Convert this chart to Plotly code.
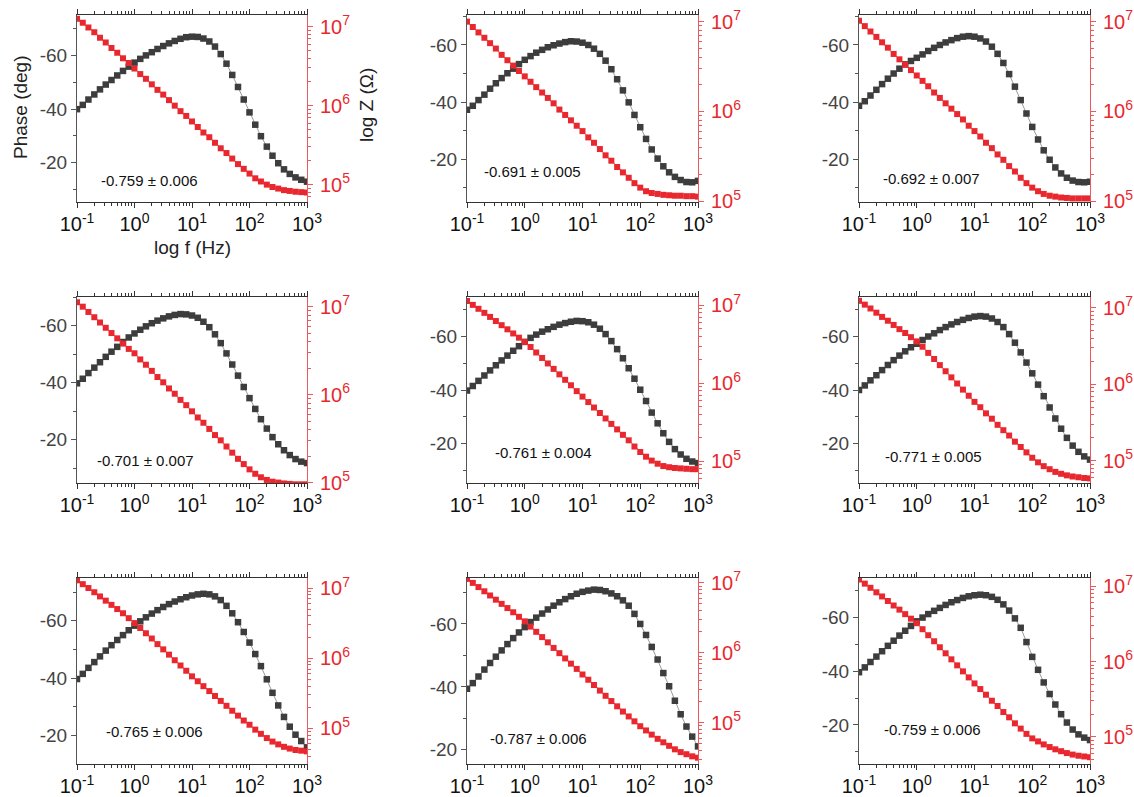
import plotly.graph_objects as go

# ---------------- data ----------------
freq = [0.1, 0.126, 0.158, 0.2, 0.251, 0.316, 0.398, 0.501, 0.631, 0.794,
        1.0, 1.26, 1.58, 2.0, 2.51, 3.16, 3.98, 5.01, 6.31, 7.94,
        10.0, 12.6, 15.8, 20.0, 25.1, 31.6, 39.8, 50.1, 63.1, 79.4,
        100.0, 126.0, 158.0, 200.0, 251.0, 316.0, 398.0, 501.0, 631.0, 794.0, 1000.0]

phase_1 = [-40.0, -41.6, -43.6, -45.5, -47.4, -49.2, -50.9, -52.6, -54.3, -55.9, -57.4, -58.8, -60.1, -61.3, -62.5, -63.6, -64.6, -65.5, -66.3, -66.9, -67.1, -67.0, -66.4, -65.3, -63.4, -60.6, -57.0, -52.8, -48.3, -43.6, -38.8, -34.2, -29.9, -26.0, -22.6, -19.8, -17.5, -15.8, -14.5, -13.6, -12.9]
phase_2 = [-37.3, -38.7, -40.7, -42.6, -44.7, -46.6, -48.4, -50.1, -51.7, -53.3, -54.8, -56.1, -57.3, -58.3, -59.2, -59.9, -60.5, -61.0, -61.3, -61.2, -60.8, -60.0, -58.7, -56.9, -54.5, -51.5, -48.0, -44.1, -39.9, -35.5, -31.2, -27.1, -23.4, -20.2, -17.5, -15.4, -13.8, -12.7, -12.0, -11.9, -12.4]
phase_3 = [-38.7, -40.3, -42.3, -44.3, -46.3, -48.2, -50.0, -51.7, -53.2, -54.4, -55.5, -56.7, -57.9, -59.0, -60.0, -60.9, -61.7, -62.4, -62.9, -63.1, -62.9, -62.3, -61.2, -59.4, -56.9, -53.7, -49.8, -45.4, -40.7, -36.0, -31.3, -26.9, -23.1, -19.8, -17.1, -15.0, -13.5, -12.5, -12.0, -11.9, -12.1]
phase_4 = [-39.8, -41.4, -43.4, -45.3, -47.2, -49.1, -50.9, -52.6, -54.3, -55.9, -57.3, -58.6, -59.8, -60.9, -61.8, -62.6, -63.3, -63.8, -64.1, -64.0, -63.6, -62.8, -61.4, -59.5, -57.0, -53.9, -50.3, -46.4, -42.5, -38.5, -34.6, -30.8, -27.2, -23.9, -20.9, -18.4, -16.3, -14.6, -13.2, -12.3, -11.8]
phase_5 = [-39.8, -41.5, -43.4, -45.4, -47.3, -49.2, -51.0, -52.8, -54.6, -56.3, -57.9, -59.4, -60.6, -61.7, -62.6, -63.5, -64.3, -64.9, -65.4, -65.7, -65.6, -65.2, -64.3, -62.8, -60.8, -58.2, -55.2, -51.8, -48.1, -44.2, -40.1, -35.9, -31.6, -27.6, -23.9, -20.7, -18.0, -16.0, -14.4, -13.4, -12.8]
phase_6 = [-40.0, -41.7, -43.6, -45.5, -47.4, -49.3, -51.1, -52.8, -54.4, -55.9, -57.2, -58.6, -59.9, -61.1, -62.3, -63.4, -64.4, -65.3, -66.1, -66.8, -67.3, -67.5, -67.3, -66.6, -65.3, -63.4, -60.8, -57.6, -54.0, -50.2, -46.2, -42.0, -37.7, -33.5, -29.4, -25.6, -22.2, -19.3, -17.0, -15.3, -14.1]
phase_7 = [-39.7, -41.5, -43.6, -45.6, -47.6, -49.6, -51.5, -53.3, -55.0, -56.7, -58.3, -59.8, -61.2, -62.5, -63.7, -64.8, -65.8, -66.7, -67.5, -68.2, -68.8, -69.2, -69.4, -69.2, -68.5, -67.2, -65.2, -62.6, -59.5, -56.1, -52.4, -48.4, -44.2, -39.6, -34.9, -30.5, -26.5, -23.1, -20.3, -18.1, -15.9]
phase_8 = [-39.4, -41.2, -43.3, -45.5, -47.6, -49.6, -51.6, -53.6, -55.5, -57.3, -59.0, -60.6, -62.0, -63.3, -64.6, -65.8, -66.9, -67.9, -68.8, -69.6, -70.2, -70.6, -70.9, -70.8, -70.4, -69.7, -68.8, -67.5, -65.8, -63.2, -60.0, -56.5, -52.7, -48.7, -44.4, -40.2, -35.6, -31.3, -27.4, -24.2, -21.1]
phase_9 = [-39.6, -41.4, -43.4, -45.4, -47.4, -49.4, -51.3, -53.2, -55.0, -56.8, -58.5, -59.9, -61.2, -62.4, -63.5, -64.6, -65.6, -66.4, -67.2, -67.8, -68.2, -68.4, -68.2, -67.6, -66.5, -64.8, -62.5, -59.6, -56.1, -50.8, -45.3, -40.5, -35.8, -31.5, -27.6, -24.0, -20.9, -18.3, -16.5, -15.3, -14.4]

logz_1 = [7.10, 7.05, 6.99, 6.93, 6.86, 6.80, 6.73, 6.67, 6.60, 6.54, 6.47, 6.40, 6.34, 6.27, 6.20, 6.14, 6.07, 6.00, 5.93, 5.87, 5.80, 5.73, 5.66, 5.60, 5.53, 5.46, 5.40, 5.33, 5.26, 5.20, 5.14, 5.08, 5.04, 5.00, 4.97, 4.95, 4.93, 4.92, 4.91, 4.905, 4.90]
logz_2 = [7.00, 6.94, 6.88, 6.82, 6.76, 6.70, 6.63, 6.57, 6.51, 6.45, 6.39, 6.33, 6.27, 6.21, 6.15, 6.09, 6.02, 5.96, 5.90, 5.84, 5.78, 5.71, 5.65, 5.58, 5.51, 5.45, 5.38, 5.32, 5.26, 5.20, 5.15, 5.11, 5.09, 5.08, 5.07, 5.065, 5.06, 5.06, 5.055, 5.055, 5.05]
logz_3 = [7.01, 6.95, 6.89, 6.83, 6.77, 6.71, 6.64, 6.58, 6.52, 6.46, 6.40, 6.34, 6.28, 6.21, 6.15, 6.09, 6.03, 5.97, 5.91, 5.84, 5.78, 5.72, 5.65, 5.59, 5.52, 5.46, 5.39, 5.33, 5.26, 5.20, 5.15, 5.11, 5.08, 5.06, 5.05, 5.04, 5.035, 5.03, 5.03, 5.03, 5.03]
logz_4 = [7.05, 7.00, 6.94, 6.88, 6.82, 6.76, 6.70, 6.64, 6.58, 6.52, 6.47, 6.40, 6.34, 6.27, 6.20, 6.14, 6.07, 6.01, 5.94, 5.88, 5.81, 5.74, 5.68, 5.61, 5.54, 5.48, 5.41, 5.34, 5.27, 5.21, 5.15, 5.10, 5.06, 5.03, 5.01, 5.00, 4.99, 4.985, 4.98, 4.98, 4.98]
logz_5 = [7.055, 7.005, 6.955, 6.903, 6.851, 6.798, 6.745, 6.692, 6.639, 6.585, 6.53, 6.465, 6.395, 6.325, 6.255, 6.185, 6.115, 6.045, 5.975, 5.90, 5.83, 5.76, 5.69, 5.62, 5.55, 5.48, 5.41, 5.34, 5.27, 5.19, 5.12, 5.06, 5.01, 4.97, 4.94, 4.925, 4.915, 4.91, 4.905, 4.90, 4.90]
logz_6 = [7.09, 7.04, 6.99, 6.935, 6.88, 6.83, 6.775, 6.72, 6.67, 6.615, 6.56, 6.49, 6.41, 6.33, 6.25, 6.17, 6.09, 6.01, 5.93, 5.85, 5.77, 5.70, 5.62, 5.55, 5.47, 5.40, 5.33, 5.25, 5.18, 5.11, 5.04, 4.98, 4.93, 4.89, 4.855, 4.83, 4.81, 4.795, 4.785, 4.775, 4.77]
logz_7 = [7.11, 7.055, 7.0, 6.94, 6.88, 6.82, 6.76, 6.70, 6.64, 6.57, 6.50, 6.43, 6.355, 6.28, 6.20, 6.125, 6.05, 5.97, 5.895, 5.82, 5.74, 5.67, 5.60, 5.53, 5.46, 5.39, 5.32, 5.25, 5.18, 5.11, 5.05, 4.98, 4.92, 4.86, 4.81, 4.77, 4.735, 4.71, 4.69, 4.68, 4.67]
logz_8 = [7.057, 7.0, 6.94, 6.88, 6.82, 6.76, 6.70, 6.64, 6.58, 6.515, 6.45, 6.375, 6.30, 6.225, 6.15, 6.07, 5.995, 5.92, 5.845, 5.77, 5.69, 5.615, 5.54, 5.46, 5.385, 5.31, 5.235, 5.16, 5.09, 5.02, 4.95, 4.89, 4.83, 4.77, 4.72, 4.67, 4.62, 4.58, 4.55, 4.52, 4.50]
logz_9 = [7.09, 7.035, 6.98, 6.92, 6.865, 6.805, 6.745, 6.69, 6.63, 6.57, 6.51, 6.43, 6.35, 6.27, 6.19, 6.11, 6.03, 5.95, 5.87, 5.79, 5.71, 5.635, 5.56, 5.48, 5.41, 5.33, 5.26, 5.18, 5.11, 5.04, 4.98, 4.94, 4.90, 4.865, 4.835, 4.81, 4.785, 4.765, 4.75, 4.74, 4.73]

fit_labels = ["-0.759 \u00b1 0.006", "-0.691 \u00b1 0.005", "-0.692 \u00b1 0.007",
              "-0.701 \u00b1 0.007", "-0.761 \u00b1 0.004", "-0.771 \u00b1 0.005",
              "-0.765 \u00b1 0.006", "-0.787 \u00b1 0.006", "-0.759 \u00b1 0.006"]

x_tick_vals = [0.1, 1, 10, 100, 1000]
x_tick_text = ["10<sup>-1</sup>", "10<sup>0</sup>", "10<sup>1</sup>", "10<sup>2</sup>", "10<sup>3</sup>"]
phase_tick_vals = [-60, -40, -20]
phase_tick_text = ["-60", "-40", "-20"]
z_tick_vals = [1e5, 1e6, 1e7]
z_tick_text = ["10<sup>5</sup>", "10<sup>6</sup>", "10<sup>7</sup>"]

phases = [phase_1, phase_2, phase_3, phase_4, phase_5, phase_6, phase_7, phase_8, phase_9]
logzs = [logz_1, logz_2, logz_3, logz_4, logz_5, logz_6, logz_7, logz_8, logz_9]

# ---------------- layout geometry ----------------
W, H = 1134, 797
cols_px = [(77, 307), (467, 698), (859, 1090)]
rows_px = [(15, 202), (297, 483), (578, 764)]
phase_ranges = [(-5.3, -75.2), (-5.0, -70.5), (-5.0, -70.5),
                (-4.8, -70.1), (-5.4, -74.6), (-5.4, -74.6),
                (-10.1, -74.9), (-15.5, -74.6), (-5.5, -74.6)]
logz_ranges = [(4.78, 7.148), (4.99, 7.074), (4.99, 7.074),
               (4.995, 7.11), (4.723, 7.106), (4.71, 7.14),
               (4.49, 7.143), (4.41, 7.07), (4.64, 7.11)]
note_pos = [(149, 180), (532, 172), (931, 179),
            (145, 460), (543, 452), (933, 456),
            (154, 731), (538, 738), (932, 729)]

minor_x = [m * 10 ** e for e in range(-1, 3) for m in range(2, 10)]
minor_z = [m * 10 ** e for e in range(4, 8) for m in range(2, 10)]

FONT = "Arial, Liberation Sans, sans-serif"
RED = "#e8282e"
RED_AX = "#e85a5e"
DARK = "#3d3d3d"

fig = go.Figure()
layout = dict(
    template="none",
    width=W, height=H,
    margin=dict(l=0, r=0, t=0, b=0, pad=0, autoexpand=False),
    paper_bgcolor="white", plot_bgcolor="white",
    showlegend=False,
    font=dict(family=FONT, color="#222"),
    annotations=[],
)

for k in range(9):
    r, c = divmod(k, 3)
    x0, x1 = cols_px[c]
    y0, y1 = rows_px[r]
    xn = "" if k == 0 else str(k + 1)
    nl = 2 * k + 1
    nr = 2 * k + 2
    yl = "" if nl == 1 else str(nl)
    yr = str(nr)
    xref, ylref, yrref = "x" + xn, "y" + yl, "y" + yr

    layout["xaxis" + xn] = dict(
        type="log", range=[-1, 3], domain=[x0 / W, x1 / W], anchor=ylref,
        automargin=False,
        showline=True, linecolor="#333", linewidth=1, mirror="ticks",
        ticks="outside", ticklen=5, tickcolor="#333", tickwidth=1,
        ticklabelstandoff=-1,
        tickmode="array", tickvals=x_tick_vals, ticktext=x_tick_text,
        tickfont=dict(size=20, color="#111", family=FONT),
        minor=dict(tickmode="array", tickvals=minor_x, ticks="outside",
                   ticklen=3, tickcolor="#333", showgrid=False),
        showgrid=False, zeroline=False,
    )
    layout["yaxis" + yl] = dict(
        range=list(phase_ranges[k]), domain=[1 - y1 / H, 1 - y0 / H], anchor=xref,
        automargin=False,
        showline=True, linecolor="#555", linewidth=1, mirror=False,
        ticks="outside", ticklen=5, tickcolor="#555",
        tickmode="array", tickvals=phase_tick_vals, ticktext=phase_tick_text,
        tickfont=dict(size=19, color="#444", family=FONT),
        minor=dict(dtick=10, ticks="outside", ticklen=3, tickcolor="#555", showgrid=False),
        showgrid=False, zeroline=False,
    )
    layout["yaxis" + yr] = dict(
        type="log", range=list(logz_ranges[k]), overlaying=ylref, side="right",
        anchor=xref, automargin=False,
        showline=True, linecolor=RED_AX, linewidth=1,
        ticks="outside", ticklen=5, tickcolor=RED_AX,
        ticklabelstandoff=3,
        tickmode="array", tickvals=z_tick_vals, ticktext=z_tick_text,
        tickfont=dict(size=20, color=RED, family=FONT),
        minor=dict(tickmode="array", tickvals=minor_z, ticks="outside",
                   ticklen=3, tickcolor=RED_AX, showgrid=False),
        showgrid=False, zeroline=False,
    )

    fig.add_trace(go.Scatter(
        x=freq, y=phases[k], xaxis=xref, yaxis=ylref, mode="lines+markers",
        line=dict(color="#9a9a9a", width=1),
        marker=dict(symbol="square", size=6.5, color=DARK, line=dict(width=0)),
    ))
    fig.add_trace(go.Scatter(
        x=freq, y=[10 ** v for v in logzs[k]], xaxis=xref, yaxis=yrref,
        mode="lines+markers",
        line=dict(color="#f07070", width=1),
        marker=dict(symbol="square", size=6, color=RED, line=dict(width=0)),
    ))

    px, py = note_pos[k]
    layout["annotations"].append(dict(
        x=px / W, y=1 - py / H, xref="paper", yref="paper", showarrow=False,
        text=fit_labels[k], font=dict(size=15, color="#111", family=FONT),
        xanchor="center", yanchor="middle",
    ))

# axis titles (first panel only)
layout["annotations"] += [
    dict(x=20 / W, y=1 - 107 / H, xref="paper", yref="paper", showarrow=False,
         text="Phase (deg)", textangle=-90, font=dict(size=19, color="#222", family=FONT),
         xanchor="center", yanchor="middle"),
    dict(x=366 / W, y=1 - 105 / H, xref="paper", yref="paper", showarrow=False,
         text="log Z (\u03a9)", textangle=-90, font=dict(size=19, color="#222", family=FONT),
         xanchor="center", yanchor="middle"),
    dict(x=192 / W, y=1 - 247 / H, xref="paper", yref="paper", showarrow=False,
         text="log f (Hz)", font=dict(size=19, color="#222", family=FONT),
         xanchor="center", yanchor="middle"),
]

fig.update_layout(**layout)
fig.write_html(
    "out.html",
    config={"displayModeBar": False},
    post_script="document.body.style.margin='0';document.body.style.padding='0';"
                "document.body.style.overflow='hidden';",
)
